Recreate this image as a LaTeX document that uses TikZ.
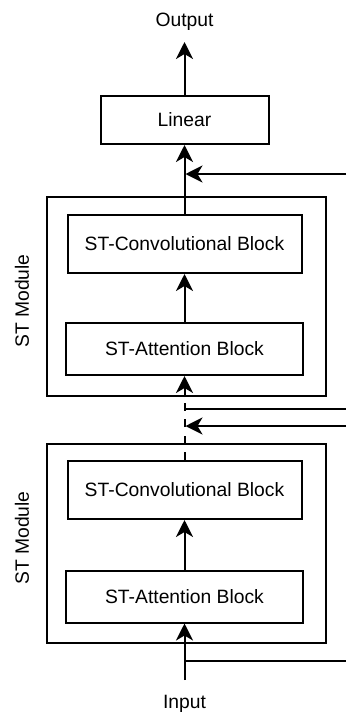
\documentclass[tikz,border=0pt]{standalone}
\usepackage{fontspec}
\setmainfont{Liberation Sans}
\usetikzlibrary{arrows.meta}
\tikzset{
  blk/.style={draw, line width=2pt, inner sep=0pt, font=\fontsize{19.3}{22}\selectfont},
  modbox/.style={draw, line width=2pt, inner sep=0pt, minimum width=279pt, minimum height=199pt},
  lbl/.style={inner sep=0pt, font=\fontsize{19.3}{22}\selectfont},
  ln/.style={line width=2pt},
  arr/.style={line width=2pt, -{Stealth[length=17pt,width=17pt,inset=5pt]}},
  dln/.style={line width=2pt, dash pattern=on 8pt off 8.5pt}
}
\begin{document}
\begin{tikzpicture}[x=1pt,y=-1pt]
\useasboundingbox (0,0) rectangle (346,718);
% text labels
\node[lbl, anchor=base] (out) at (184.5,26.6) {Output};
\node[lbl, anchor=base] (in) at (184.5,708.6) {Input};
% linear
\node[blk, minimum width=168pt, minimum height=48pt] (lin) at (184.5,120) {Linear};
% upper module
\node[modbox] (m1) at (186.5,296.5) {};
\node[blk, minimum width=234pt, minimum height=58pt] (conv1) at (184.5,244) {ST-Convolutional Block};
\node[blk, minimum width=237pt, minimum height=52pt] (att1) at (184.5,349) {ST-Attention Block};
\node[lbl, rotate=90, anchor=base] (st1) at (28.8,301) {ST Module};
% lower module
\node[modbox] (m2) at (186.5,543.5) {};
\node[blk, minimum width=234pt, minimum height=58pt] (conv2) at (184.5,490) {ST-Convolutional Block};
\node[blk, minimum width=237pt, minimum height=52pt] (att2) at (184.5,596.5) {ST-Attention Block};
\node[lbl, rotate=90, anchor=base] (st2) at (28.8,538) {ST Module};
% coordinates
\coordinate (outtip) at (184.5,42);
\coordinate (instart) at (184.5,680);
\coordinate (m1b) at (m1.south -| att1.south);
\coordinate (r1) at (346,174);
\coordinate (j1) at (185.5,174);
\coordinate (r2) at (346,409);
\coordinate (j2) at (184.5,409);
\coordinate (r3) at (346,426);
\coordinate (j3) at (185.5,426);
\coordinate (r4) at (346,661);
\coordinate (j4) at (184.5,661);
% main flow
\draw[arr] (lin.north) -- (outtip);
\draw[arr] (conv1.north) -- (lin.south);
\draw[arr] (att1.north) -- (conv1.south);
\draw[arr] (m1b) -- (att1.south);
\draw[dln] (conv2.north) -- (m1b);
\draw[arr] (att2.north) -- (conv2.south);
\draw[arr] (instart) -- (att2.south);
% skip connections
\draw[arr] (r1) -- (j1);
\draw[ln] (j2) -- (r2);
\draw[arr] (r3) -- (j3);
\draw[ln] (j4) -- (r4);
\end{tikzpicture}
\end{document}
